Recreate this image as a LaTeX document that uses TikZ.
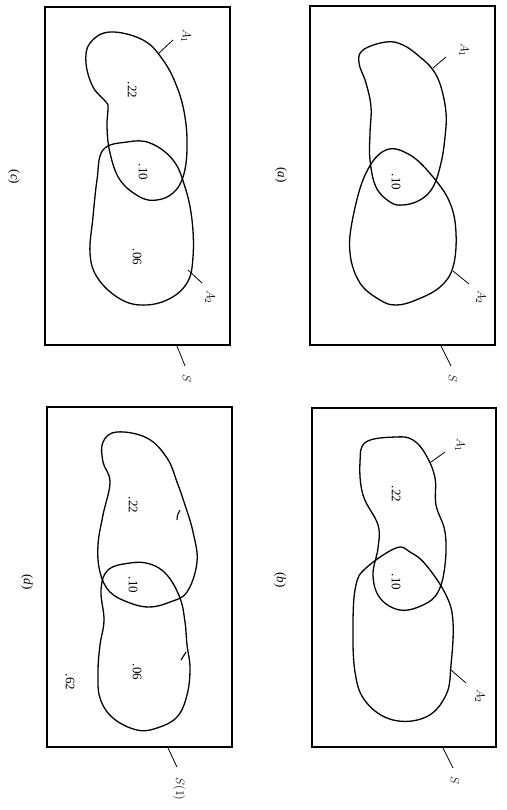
\documentclass[tikz,border=0pt]{standalone}
\usepackage{fontspec}
\setmainfont{Liberation Serif}
\begin{document}
\begin{tikzpicture}[x=1pt,y=-1pt,
  frame/.style={line width=1.4pt},
  blob/.style={line width=1.3pt, smooth cycle, tension=0.65},
  ptr/.style={line width=0.8pt},
  lbl/.style={rotate=-90, inner sep=0pt, font=\fontsize{13}{15}\selectfont},
  captxt/.style={rotate=-90, inner sep=0pt, font=\fontsize{13}{15}\selectfont}]
\useasboundingbox (0,0) rectangle (506,810);
% ---------- panel (a) ----------
\draw[frame] (310,6) rectangle (495,345);
\draw[blob] plot coordinates {(386,42) (363,50) (359,63) (366,83) (371,107) (370,133) (370,160) (376,187) (390,202) (403,205) (420,200) (433,187) (441,163) (445,137) (446,113) (441,87) (433,70) (420,57) (403,45)};
\draw[blob] plot coordinates {(386,150) (366,173) (353,217) (350,253) (360,283) (380,300) (396,305) (416,300) (440,287) (453,267) (456,233) (450,203) (433,177) (410,155)};
\node[captxt] (capa) at (281,175) {(\textit{a})};
\node[lbl] (v10a) at (396,182) {.10};
\coordinate (a1a) at (433,68); \coordinate (a1b) at (446,57);
\draw[ptr] (a1a) -- (a1b); \node[lbl] (la1) at (464,50) {$A_1$};
\coordinate (a2a) at (453,271); \coordinate (a2b) at (469,284);
\draw[ptr] (a2a) -- (a2b); \node[lbl] (la2) at (481,297) {$A_2$};
\coordinate (sa) at (441,346); \coordinate (sb) at (451,366);
\draw[ptr] (sa) -- (sb); \node[lbl] (ls) at (453,378) {$S$};
% ---------- panel (b) ----------
\draw[frame] (312,408) rectangle (496,747);
\draw[blob] plot coordinates {(396,437) (366,442) (360,462) (363,495) (378,525) (378,548) (373,575) (380,598) (400,610) (423,605) (438,592) (445,565) (445,532) (436,505) (435,478) (426,455) (413,440)};
\draw[blob] plot coordinates {(396,548) (366,568) (356,585) (353,622) (355,672) (366,702) (393,720) (426,717) (446,695) (451,665) (453,622) (446,595) (426,565) (410,552)};
\node[captxt] (capb) at (280,580) {(\textit{b})};
\node[lbl] (v22b) at (396,494) {.22};
\node[lbl] (v10b) at (396,582) {.10};
\coordinate (b1a) at (431,462); \coordinate (b1b) at (445,452);
\draw[ptr] (b1a) -- (b1b); \node[lbl] (lb1) at (460,445) {$A_1$};
\coordinate (b2a) at (451,670); \coordinate (b2b) at (466,683);
\draw[ptr] (b2a) -- (b2b); \node[lbl] (lb2) at (480,696) {$A_2$};
\coordinate (sba) at (443,748); \coordinate (sbb) at (453,768);
\draw[ptr] (sba) -- (sbb); \node[lbl] (lsb) at (455,780) {$S$};
% ---------- panel (c) ----------
\draw[frame] (45,7) rectangle (230,345);
\draw[blob] plot coordinates {(110,32) (90,43) (86,63) (93,87) (106,102) (108,108) (107,127) (110,153) (120,180) (140,197) (157,200) (173,193) (183,177) (187,150) (185,117) (177,87) (163,60) (143,40)};
\draw[blob] plot coordinates {(127,142) (103,150) (97,180) (93,217) (90,253) (97,277) (117,297) (140,305) (167,300) (187,283) (193,257) (192,220) (185,187) (173,160) (150,143)};
\node[captxt] (capc) at (14,177) {(\textit{c})};
\node[lbl] (v22c) at (132,90) {.22};
\node[lbl] (v10c) at (143,172) {.10};
\node[lbl] (v06c) at (137,257) {.06};
\coordinate (c1a) at (159,53); \coordinate (c1b) at (173,40);
\draw[ptr] (c1a) -- (c1b); \node[lbl] (lc1) at (186,36) {$A_1$};
\coordinate (c2a) at (188,270); \coordinate (c2b) at (202,283);
\draw[ptr] (c2a) -- (c2b); \node[lbl] (lc2) at (210,297) {$A_2$};
\coordinate (sca) at (177,346); \coordinate (scb) at (185,366);
\draw[ptr] (sca) -- (scb); \node[lbl] (lsc) at (187,378) {$S$};
% ---------- panel (d) ----------
\draw[frame] (47,407) rectangle (232,747);
\draw[blob] plot coordinates {(117,432) (103,442) (103,462) (110,482) (103,515) (98,545) (100,572) (110,592) (130,603) (150,607) (170,602) (187,592) (197,562) (193,532) (185,505) (177,482) (167,458) (147,438)};
\draw[blob] plot coordinates {(130,563) (108,570) (101,590) (104,620) (100,645) (98,672) (100,698) (113,718) (137,730) (157,728) (177,717) (187,695) (190,668) (187,645) (185,622) (180,598) (167,575) (150,564)};
\coordinate (d1b) at (177,520); \coordinate (d1c) at (180,510);
\draw[line width=1.1pt] (d1b) .. controls (177,516) .. (d1c);
\coordinate (d2a) at (181,660); \coordinate (d2b) at (186,652);
\draw[line width=1.1pt] (d2a) -- (d2b);
\node[captxt] (capd) at (27,582) {(\textit{d})};
\node[lbl] (v22d) at (133,505) {.22};
\node[lbl] (v10d) at (133,585) {.10};
\node[lbl] (v06d) at (137,672) {.06};
\node[lbl] (v62d) at (70,682) {.62};
\coordinate (sda) at (168,748); \coordinate (sdb) at (177,767);
\draw[ptr] (sda) -- (sdb); \node[lbl] (lsd) at (179,789) {$S(1)$};
\end{tikzpicture}
\end{document}
